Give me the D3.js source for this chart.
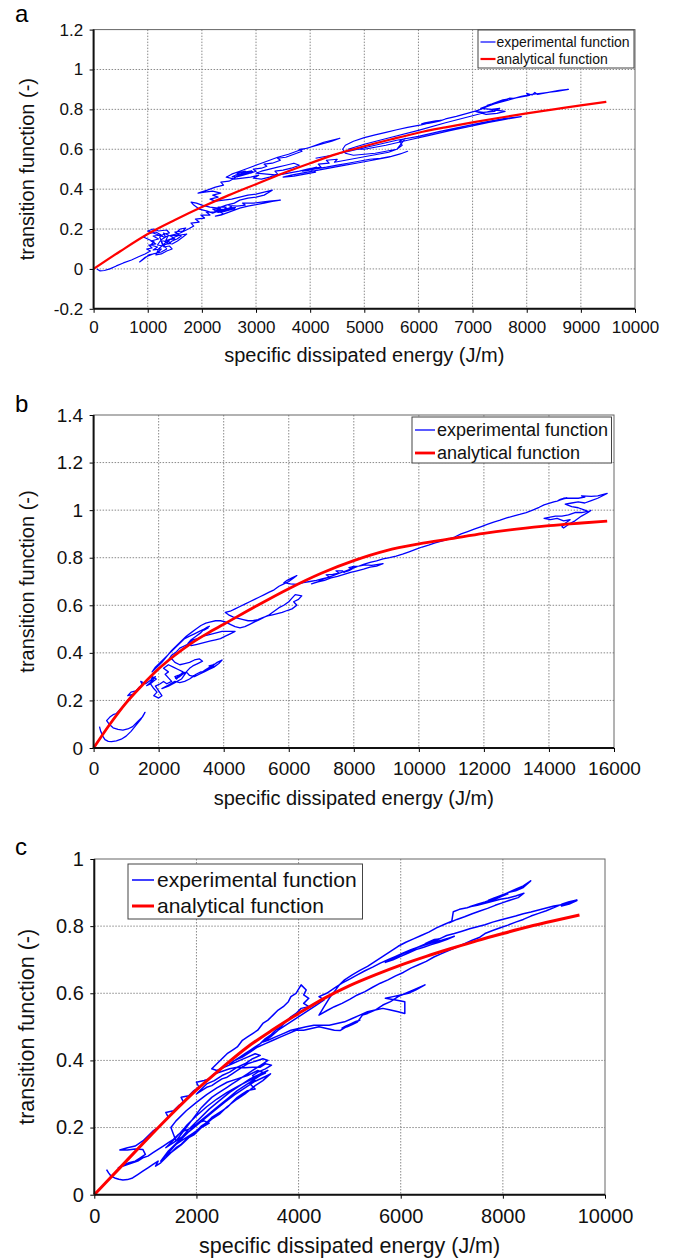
<!DOCTYPE html>
<html><head><meta charset="utf-8">
<script src="https://cdn.jsdelivr.net/npm/d3@7"></script>
<style>
html,body{margin:0;padding:0;background:#fff;}
svg{display:block;font-family:"Liberation Sans",Arial,sans-serif;}
</style></head>
<body>
<svg id="chart" width="689" height="1260"></svg>
<script>
// ---------- data ----------
const panelLabels = ["a", "b", "c"];
const seriesNames = ["experimental function", "analytical function"];
const xTitle = "specific dissipated energy (J/m)";
const yTitle = "transition function (-)";

const xTicksA = [0,1000,2000,3000,4000,5000,6000,7000,8000,9000,10000];
const yTicksA = [-0.2,0,0.2,0.4,0.6,0.8,1,1.2];
const xTicksB = [0,2000,4000,6000,8000,10000,12000,14000,16000];
const yTicksB = [0,0.2,0.4,0.6,0.8,1,1.2,1.4];
const xTicksC = [0,2000,4000,6000,8000,10000];
const yTicksC = [0,0.2,0.4,0.6,0.8,1];

// analytical function
const anaA = [[0,0],[500,0.09],[1000,0.175],[1500,0.245],[2000,0.31],[2500,0.37],[3000,0.425],[3500,0.48],[4000,0.53],[4500,0.577],[5000,0.615],[5500,0.65],[6000,0.683],[6500,0.71],[7000,0.735],[7500,0.758],[8000,0.78],[8500,0.80],[9000,0.82],[9470,0.838]];
const anaB = [[0,0],[500,0.1],[1000,0.19],[1500,0.265],[2000,0.333],[2500,0.39],[3000,0.44],[3500,0.482],[4000,0.52],[5000,0.597],[6000,0.67],[7000,0.735],[8000,0.788],[9000,0.83],[10000,0.858],[11000,0.88],[12000,0.902],[13000,0.92],[14000,0.935],[15000,0.946],[15790,0.954]];
const anaC = [[0,0],[500,0.08],[1000,0.16],[1500,0.238],[2000,0.312],[2500,0.378],[3000,0.44],[3500,0.492],[4000,0.54],[4500,0.585],[5000,0.623],[5500,0.655],[6000,0.684],[6500,0.71],[7000,0.734],[7500,0.757],[8000,0.778],[8500,0.798],[9000,0.816],[9500,0.833]];

// experimental function (traced)
const expA = [[60,0],[120,-0.01],[200,-0.008],[300,0.0],[420,0.015],[550,0.03],[700,0.045],[820,0.06],[950,0.075],[1050,0.09],
[980,0.1],[1080,0.105],[1020,0.12],[1150,0.125],[1060,0.14],[1200,0.15],[1100,0.165],[1250,0.17],[1150,0.185],[1000,0.175],[920,0.16],[1000,0.15],[1120,0.135],[1050,0.12],[1180,0.11],[1100,0.095],[1250,0.1],[1180,0.08],[1020,0.07],[900,0.045],[850,0.035],[960,0.06],[1100,0.075],[1250,0.085],[1350,0.1],[1300,0.12],[1420,0.13],[1350,0.145],[1500,0.15],[1420,0.165],[1580,0.17],[1500,0.185],[1650,0.19],[1700,0.205],[1600,0.2],[1520,0.18],[1620,0.165],[1540,0.15],[1450,0.14],[1380,0.125],[1300,0.14],
[1230,0.14],[1180,0.12],[1280,0.115],[1240,0.145],[1330,0.16],[1290,0.18],[1380,0.17],[1330,0.14],[1420,0.15],[1350,0.13],
[1450,0.125],[1550,0.14],[1650,0.16],[1720,0.175],[1600,0.17],[1500,0.16],[1400,0.145],[1300,0.125],[1200,0.1],[1150,0.07],[1250,0.075],[1350,0.09],[1450,0.1],[1400,0.115],[1300,0.11],
[1220,0.16],[1300,0.175],[1400,0.18],[1350,0.195],[1200,0.19],[1100,0.2],[1000,0.19],[1150,0.175],[1300,0.16],[1450,0.17],[1600,0.18],[1750,0.2],[1850,0.215],
[1800,0.23],[1950,0.235],[1880,0.25],[2050,0.255],[1980,0.27],[2150,0.27],[2080,0.285],[2250,0.285],
[2350,0.292],[2450,0.297],[2550,0.303],[2620,0.308],[2520,0.306],[2420,0.3],[2320,0.296],[2240,0.29],[2330,0.288],[2430,0.292],[2530,0.298],[2610,0.302],[2500,0.294],[2400,0.287],[2300,0.283],
[2200,0.3],[2350,0.3],[2300,0.31],[2450,0.31],[2400,0.295],[2550,0.31],[2500,0.318],[2650,0.315],[2800,0.32],[2750,0.33],[2950,0.33],[3100,0.335],[3250,0.34],[3450,0.345],[3300,0.338],[3150,0.33],[3000,0.322],[2850,0.315],[2700,0.305],[2550,0.29],[2450,0.28],[2350,0.27],[2250,0.265],[2400,0.275],[2300,0.29],[2200,0.28],[2100,0.29],[1950,0.3],[1850,0.32],[1800,0.335],[1900,0.33],[2000,0.32],[2150,0.31],[2300,0.305],[2450,0.32],[2600,0.33],[2700,0.345],[2850,0.355],[3000,0.36],[3150,0.37],[3300,0.395],[3150,0.385],[3000,0.375],[2850,0.37],[2700,0.36],[2550,0.35],[2400,0.345],[2250,0.34],[2150,0.35],[2300,0.36],[2200,0.37],[2350,0.38],
[2200,0.39],[2050,0.385],[1930,0.38],[2100,0.395],[2250,0.41],[2400,0.42],[2350,0.435],[2500,0.44],[2600,0.455],
[2650,0.466],[2750,0.474],[2870,0.485],[2920,0.492],[2820,0.487],[2720,0.478],[2620,0.47],[2560,0.462],[2660,0.462],[2760,0.47],[2860,0.478],[2940,0.488],[2830,0.48],[2700,0.472],
[2650,0.48],[2800,0.49],[2900,0.48],[3000,0.49],[2950,0.5],[3100,0.505],[3200,0.515],[3150,0.525],[3300,0.53],[3450,0.545],[3400,0.555],[3550,0.56],[3700,0.575],[3850,0.59],[3800,0.6],[3950,0.605],[4100,0.62],[4250,0.635],[4400,0.645],[4550,0.655],[4400,0.64],[4200,0.625],[4000,0.61],[3800,0.595],[3600,0.575],[3400,0.56],[3250,0.545],[3100,0.53],[2950,0.515],[2800,0.5],[2700,0.49],[2550,0.475],[2450,0.46],[2600,0.45],[2750,0.455],[2900,0.46],[3050,0.47],[2950,0.455],[3100,0.45],[3250,0.46],[3400,0.475],[3350,0.49],[3500,0.495],[3650,0.505],[3800,0.52],[3700,0.53],[3550,0.52],[3400,0.51],[3250,0.5],[3100,0.49],[3000,0.48],
[3200,0.475],[3400,0.47],[3600,0.48],[3800,0.49],
[3950,0.5],[4050,0.506],[4120,0.51],[4020,0.503],[3920,0.497],[3860,0.49],[3960,0.494],[4070,0.5],
[4300,0.51],[4500,0.52],[4700,0.53],[4900,0.54],[5100,0.55],[5300,0.555],[5500,0.565],[5700,0.58],[5800,0.59],[5650,0.575],[5450,0.56],[5250,0.55],[5050,0.54],[4850,0.53],[4650,0.52],[4450,0.51],[4250,0.5],[4050,0.49],[3850,0.48],[3650,0.47],[3500,0.46],[3700,0.465],[3900,0.475],[4100,0.485],[4000,0.5],[4200,0.51],[4150,0.525],[4350,0.53],[4300,0.545],[4500,0.55],[4450,0.535],[4650,0.545],[4850,0.555],[5050,0.565],[5250,0.575],[5450,0.585],[5600,0.6],[5700,0.62],[5650,0.64],[5760,0.655],[5600,0.6],[5400,0.59],[5200,0.58],[5000,0.575],[4800,0.57],[4650,0.58],[4600,0.6],[4650,0.62],
[4800,0.64],[5000,0.658],[5200,0.672],[5400,0.685],[5600,0.698],[5800,0.71],[6050,0.722],[6150,0.728],[6250,0.734],[6350,0.74],[6420,0.745],[6320,0.742],[6220,0.737],[6120,0.732],[6060,0.727],[6180,0.73],[6300,0.736],[6400,0.742],[6500,0.752],[6700,0.765],[6900,0.78],[7100,0.795],
[7250,0.812],[7350,0.822],[7450,0.832],[7550,0.842],[7650,0.852],[7560,0.848],[7460,0.838],[7360,0.828],[7270,0.82],[7370,0.826],[7470,0.836],[7570,0.846],[7680,0.856],
[7750,0.855],[7900,0.862],[8050,0.87],[8000,0.88],[8100,0.872],[8150,0.885],[8200,0.875],[8400,0.885],[8600,0.895],[8770,0.9],[8550,0.89],[8300,0.882],[8100,0.875],[7900,0.865],[7700,0.85],[7500,0.835],[7300,0.82],[7150,0.805],[7350,0.8],[7500,0.805],[7400,0.79],[7200,0.785],[7050,0.79],[7250,0.775],[7450,0.78],[7600,0.79],[7400,0.797],[7000,0.768],[6500,0.733],[6000,0.695],[5500,0.66],[5000,0.625],[4700,0.6],[5000,0.6],[5400,0.62],[5800,0.645],[6200,0.67],[6600,0.695],[6950,0.714],[7300,0.735],[7600,0.75],[7900,0.764],[7600,0.755],[7200,0.735],[6800,0.712],[6400,0.69],[6000,0.665],[5600,0.645],[5200,0.62],[4800,0.595],[4400,0.57],[4100,0.555]];

const expB = [[180,0.09],[220,0.07],[280,0.05],[350,0.035],[450,0.028],[550,0.027],[700,0.03],[850,0.037],[1000,0.05],[1150,0.07],[1300,0.095],[1450,0.12],[1580,0.15],[1500,0.13],[1350,0.11],[1200,0.09],[1050,0.08],[900,0.075],[750,0.078],[600,0.085],[480,0.1],[400,0.115],[500,0.13],[600,0.14],[700,0.145],[800,0.16],[900,0.175],[1000,0.19],[1100,0.21],[1200,0.225],[1050,0.22],[1150,0.235],[1300,0.24],[1400,0.255],[1500,0.265],[1450,0.28],[1600,0.27],
[1700,0.28],[1800,0.29],[1900,0.3],[1820,0.285],[1720,0.272],[1630,0.262],[1730,0.268],[1830,0.28],[1930,0.29],
[1800,0.3],[1750,0.27],[1850,0.25],[1950,0.235],[1850,0.22],[2000,0.21],[2100,0.22],[2000,0.24],[1900,0.26],[2050,0.27],[2150,0.28],[2250,0.27],[2400,0.28],[2300,0.295],[2200,0.31],[2300,0.32],[2150,0.335],[2300,0.35],[2450,0.34],[2600,0.33],[2750,0.32],[2650,0.305],[2550,0.29],
[2500,0.3],[2600,0.305],[2700,0.312],[2800,0.318],[2720,0.308],[2620,0.298],[2520,0.293],[2630,0.302],[2740,0.31],[2860,0.32],
[2700,0.29],[2500,0.275],[2300,0.26],[2100,0.25],[2300,0.265],[2500,0.28],[2650,0.275],[2800,0.28],[2950,0.29],[3050,0.3],[3150,0.31],[3300,0.32],
[3350,0.32],[3450,0.33],[3550,0.338],[3650,0.345],[3700,0.352],[3600,0.342],[3500,0.334],[3400,0.326],[3480,0.328],[3580,0.336],[3690,0.346],
[3550,0.345],[3700,0.35],[3800,0.36],[3950,0.37],[3850,0.355],[3700,0.34],[3550,0.33],[3400,0.32],[3250,0.31],[3100,0.3],[2950,0.305],[2850,0.32],[2950,0.335],[3050,0.345],[3200,0.355],[3350,0.365],[3250,0.375],[3100,0.37],[2950,0.36],[2800,0.355],[2650,0.35],[2500,0.36],[2400,0.375],[2300,0.37],[2400,0.39],[2550,0.405],[2650,0.42],[2800,0.43],[2950,0.44],[3050,0.455],[3200,0.46],[3350,0.47],[3500,0.475],[3650,0.48],[3800,0.485],[3950,0.49],[4100,0.49],[4350,0.49],[4200,0.48],[4050,0.47],[3900,0.46],[3750,0.455],[3600,0.45],[3450,0.445],[3300,0.44],[3150,0.435],[3000,0.43],[2900,0.44],[3000,0.455],[3150,0.47],[3300,0.485],
[3400,0.5],[3500,0.508],[3560,0.512],[3460,0.502],[3360,0.494],[3420,0.497],[3520,0.505],
[3400,0.5],[3250,0.49],[3100,0.48],[2950,0.47],[2800,0.46],[2650,0.44],[2500,0.42],[2350,0.4],[2200,0.38],[2050,0.36],[1900,0.34],[1800,0.32],[1950,0.34],[2100,0.36],[2250,0.385],[2400,0.41],[2550,0.43],[2700,0.45],[2850,0.47],[3000,0.485],[3150,0.5],[3300,0.515],[3450,0.525],[3600,0.53],[3750,0.535],[3900,0.535],[4050,0.53],[4200,0.52],[4350,0.51],[4500,0.505],[4650,0.51],[4800,0.52],[4950,0.53],[5100,0.54],[5250,0.55],[5400,0.56],[5550,0.575],[5700,0.59],[5850,0.6],[6000,0.615],[6100,0.63],[6200,0.645],[6400,0.64],[6300,0.625],[6150,0.615],[6250,0.6],[6100,0.585],[5950,0.578],[5800,0.57],[5650,0.565],[5500,0.56],[5350,0.555],[5200,0.548],[5050,0.54],[4900,0.535],[4750,0.535],[4600,0.54],[4450,0.545],[4300,0.55],[4150,0.56],[4050,0.57],[4200,0.575],[4350,0.585],[4500,0.595],[4650,0.605],[4800,0.615],[4950,0.625],[5100,0.635],[5250,0.645],[5400,0.655],[5550,0.665],[5700,0.68],[5850,0.69],[6000,0.7],[6150,0.715],[6250,0.725],[6100,0.715],[5950,0.705],[5850,0.695],[6050,0.69],[6250,0.688],[6450,0.695],[6650,0.7],[6850,0.705],[7050,0.712],[7250,0.718],[7150,0.728],[7350,0.73],[7550,0.735],[7450,0.745],[7650,0.745],
[7700,0.738],[7800,0.745],[7900,0.752],[7960,0.757],[7860,0.748],[7760,0.742],[7850,0.746],[7950,0.753],
[7850,0.758],[7950,0.762],[8150,0.765],[8350,0.77],[8550,0.768],[8750,0.772],[8900,0.775],[8700,0.765],[8500,0.76],[8300,0.752],[8100,0.745],[7900,0.738],[7700,0.73],[7500,0.722],[7300,0.715],[7100,0.705],[6900,0.698],[6700,0.69],[6900,0.7],[7100,0.712],[7300,0.722],[7500,0.732],[7700,0.742],[7900,0.752],[8100,0.762],[8300,0.772],[8500,0.78],[8700,0.787],[8900,0.795],[9100,0.8],[9300,0.807],[9500,0.815],[9700,0.825],[9900,0.835],[10100,0.845],[10300,0.853],[10500,0.862],[10700,0.87],[10900,0.878],[11100,0.887],[11300,0.9],[11500,0.91],[11700,0.92],[11900,0.93],[12100,0.94],[12300,0.95],[12500,0.958],[12700,0.967],[12900,0.975],[13100,0.982],[13300,0.99],[13500,1.0],[13700,1.012],[13850,1.022],[14000,1.028],[14150,1.035],
[14250,1.038],[14350,1.043],[14450,1.047],[14550,1.052],[14450,1.05],[14350,1.045],[14280,1.04],[14400,1.046],[14520,1.05],
[14700,1.05],[14900,1.05],[15100,1.055],[15000,1.06],[15300,1.058],[15500,1.06],[15790,1.07],[15500,1.05],[15300,1.04],[15100,1.03],[14900,1.035],[14700,1.03],[14500,1.025],[14700,1.015],[14900,1.01],[15100,1.0],[15200,0.995],[15000,0.99],[14800,0.99],[14600,0.98],[14400,0.975],[14200,0.975],[14000,0.97],[13850,0.965],[14050,0.96],[14250,0.965],[14450,0.955],[14650,0.96],[14500,0.945],[14400,0.93],[14450,0.925],[14600,0.94],[14800,0.955],[15000,0.975],[15200,0.99],[15300,1.0]];

const expC = [[240,0.075],[280,0.065],[330,0.055],[400,0.05],[480,0.046],[560,0.044],[650,0.045],[750,0.05],[850,0.06],[950,0.07],[1050,0.08],[1150,0.09],[1250,0.1],[1200,0.085],[1300,0.095],[1400,0.11],
[1500,0.125],[1600,0.14],[1700,0.15],[1800,0.165],[1900,0.175],[2000,0.19],[2100,0.2],[2250,0.213],[2150,0.22],[2050,0.215],[1950,0.205],[1850,0.195],[1750,0.19],[1650,0.18],[1550,0.165],[1450,0.155],[1350,0.145],[1250,0.135],[1150,0.125],[1050,0.115],[950,0.11],[850,0.1],[750,0.095],[650,0.09],[550,0.085],[470,0.08],[560,0.088],[680,0.095],[800,0.1],[900,0.11],[1000,0.12],[950,0.135],[800,0.136],[650,0.133],[500,0.133],[650,0.14],[800,0.145],[950,0.16],[1050,0.175],[1150,0.19],[1250,0.2],[1350,0.215],[1450,0.23],[1400,0.245],[1550,0.25],[1650,0.265],[1750,0.275],[1700,0.29],[1850,0.295],[1950,0.31],[2050,0.32],[2000,0.335],[2150,0.34],[2250,0.345],[2350,0.36],[2450,0.365],[2550,0.37],[2650,0.375],[2800,0.38],[2950,0.378],[3100,0.38],[3250,0.38],[3350,0.39],[3470,0.386],[3350,0.375],[3200,0.365],[3100,0.355],[3150,0.34],[3050,0.33],[3150,0.315],[3000,0.31],[2900,0.3],[2800,0.29],[2700,0.275],[2600,0.26],[2500,0.25],[2400,0.24],[2300,0.23],[2200,0.215],[2100,0.205],[2000,0.19],[1900,0.18],[1800,0.17],[1700,0.16],[1600,0.15],[1500,0.135],[1400,0.12],[1350,0.105],[1300,0.1],
[1450,0.13],[1650,0.16],[1850,0.195],[2050,0.225],[2250,0.255],[2450,0.28],[2650,0.305],[2850,0.325],[3050,0.345],[3250,0.36],[3400,0.37],[3200,0.35],[3000,0.33],[2800,0.31],[2600,0.285],[2400,0.26],[2200,0.235],[2000,0.21],[1800,0.18],[1600,0.15],[1400,0.115],
[1500,0.125],[1700,0.148],[1850,0.17],[1950,0.178],[2100,0.2],[2300,0.225],[2450,0.24],[2600,0.262],[2800,0.285],[2950,0.3],[3150,0.325],[3300,0.34],[3450,0.36],[3350,0.352],[3150,0.338],[2950,0.318],[2750,0.298],[2550,0.275],[2350,0.25],[2150,0.225],[1950,0.2],[1750,0.175],[1550,0.155],[1400,0.14],[1600,0.17],[1800,0.205],[2000,0.235],[2200,0.262],[2400,0.285],[2600,0.305],[2800,0.322],[3000,0.338],[3200,0.352],[3350,0.362],
[3200,0.37],[3000,0.355],[2800,0.345],[2600,0.335],[2400,0.318],[2200,0.298],[2000,0.275],[1800,0.25],[1600,0.22],[1500,0.2],
[1600,0.16],[1700,0.18],[1800,0.2],[1900,0.22],[2000,0.24],[2100,0.26],[2200,0.275],[2300,0.29],[2400,0.3],[2500,0.31],[2600,0.32],[2700,0.33],[2800,0.34],[2900,0.35],[3000,0.36],[3100,0.37],[3200,0.38],[3300,0.39],[3400,0.4],[3300,0.405],[3200,0.4],[3100,0.395],[3000,0.39],[2900,0.38],[2800,0.37],[2700,0.36],[2600,0.35],[2500,0.345],[2400,0.335],[2300,0.325],[2200,0.32],[2100,0.31],[2000,0.3],[2100,0.315],[2200,0.33],[2350,0.34],[2500,0.355],[2650,0.365],[2800,0.38],[2950,0.39],[3100,0.405],[3250,0.415],[3150,0.42],[3000,0.41],[2850,0.4],[2700,0.39],[2550,0.38],[2400,0.37],[2300,0.375],[2400,0.39],[2500,0.405],[2600,0.42],[2700,0.43],[2800,0.44],[2900,0.46],[3000,0.47],[3100,0.48],[3200,0.49],[3300,0.51],[3400,0.52],[3500,0.535],[3600,0.55],[3700,0.56],[3800,0.575],[3850,0.59],[3950,0.6],[4050,0.625],[4150,0.61],[4100,0.595],[4200,0.585],[4100,0.57],[4200,0.56],[4050,0.555],[3950,0.54],[3850,0.53],[3750,0.515],[3650,0.5],[3550,0.49],[3450,0.475],[3350,0.465],[3250,0.45],[3150,0.44],[3050,0.43],[2950,0.42],[2850,0.41],[2750,0.4],[2650,0.39],[2750,0.4],[2900,0.41],[3050,0.425],[3200,0.44],[3350,0.45],[3500,0.46],[3650,0.47],[3800,0.48],[3950,0.49],[4100,0.49],[4250,0.495],[4400,0.5],[4550,0.495],[4700,0.49],[4811,0.489],
[4900,0.497],[5000,0.505],[5100,0.512],[5200,0.52],[5120,0.516],[5020,0.509],[4920,0.502],[4850,0.496],[4950,0.5],[5050,0.507],[5150,0.514],
[5250,0.535],[5350,0.54],[5500,0.55],[5650,0.565],[5800,0.575],[5950,0.59],[6100,0.6],[6250,0.61],[6475,0.625],[6300,0.61],[6150,0.6],[6000,0.595],[5850,0.59],[5700,0.585],[5900,0.58],[6080,0.575],[6080,0.54],[5950,0.545],[5800,0.55],[5650,0.555],[5500,0.55],[5350,0.545],[5200,0.535],[5050,0.525],[4900,0.515],[4750,0.51],[4600,0.505],[4450,0.505],[4300,0.505],[4150,0.5],[4000,0.495],[3850,0.49],[3700,0.48],[3550,0.47],[3400,0.46],[3300,0.455],[3450,0.47],[3600,0.49],[3750,0.505],[3900,0.52],[4050,0.535],[4200,0.55],[4350,0.565],[4500,0.58],[4400,0.59],[4550,0.6],[4700,0.615],[4850,0.63],[5000,0.642],[5150,0.655],[5300,0.667],[5450,0.678],[5600,0.69],[5750,0.7],[5900,0.71],[6050,0.72],[6200,0.73],[6350,0.738],[6500,0.745],[6650,0.752],[6800,0.758],[6950,0.765],[7050,0.77],[6900,0.76],[6750,0.752],[6600,0.745],[6450,0.737],[6300,0.73],[6150,0.72],[6000,0.71],[5850,0.7],[5700,0.692],[5850,0.702],[6000,0.715],[6150,0.725],[6300,0.735],[6450,0.745],
[6550,0.75],[6650,0.756],[6750,0.762],[6660,0.76],[6560,0.754],[6480,0.748],[6580,0.752],[6700,0.758],
[6800,0.765],[6900,0.772],[7050,0.778],[7200,0.785],[7350,0.792],[7500,0.798],[7650,0.804],[7800,0.812],[7950,0.818],[8100,0.824],[8250,0.83],[8400,0.837],[8550,0.842],[8700,0.848],[8850,0.854],[9000,0.86],[9150,0.864],[9300,0.87],[9450,0.876],[9300,0.866],[9150,0.86],[9300,0.872],[9450,0.878],[9300,0.873],[9150,0.865],[9000,0.855],[8850,0.846],[8700,0.838],[8550,0.83],[8400,0.82],[8250,0.812],[8100,0.803],[7950,0.795],[7800,0.787],[7650,0.778],[7550,0.767],[7400,0.758],[7250,0.748],[7100,0.738],[6950,0.728],[6800,0.718],[6650,0.708],[6500,0.695],[6350,0.685],[6200,0.675],[6050,0.662],[5900,0.652],[5750,0.64],[5600,0.63],[5450,0.618],[5300,0.605],[5150,0.595],[5000,0.582],[4850,0.57],[4700,0.56],[4550,0.548],[4400,0.535],[4500,0.56],[4600,0.585],[4700,0.605],[4800,0.625],[4900,0.64],[5050,0.655],[5200,0.668],[5350,0.68],[5500,0.695],[5650,0.71],[5800,0.725],[5950,0.74],[6100,0.752],[6250,0.762],[6400,0.772],[6550,0.782],[6700,0.795],[6850,0.805],[7000,0.815],[7030,0.843],[7150,0.85],[7300,0.855],[7450,0.862],[7600,0.868],
[7700,0.872],[7800,0.878],[7900,0.884],[8000,0.89],[8100,0.896],[8000,0.894],[7900,0.888],[7800,0.882],[7720,0.877],[7830,0.884],[7940,0.89],[8060,0.897],
[8100,0.9],[8250,0.905],[8400,0.915],[8545,0.935],[8400,0.92],[8250,0.91],[8100,0.9],[7950,0.89],[7800,0.88],[7650,0.872],[7500,0.865],[7350,0.858],[7500,0.862],[7650,0.868],[7800,0.874],[7950,0.88],[8100,0.884],[8250,0.89],[8413,0.898],[8300,0.885],[8150,0.878],[8000,0.87],[7850,0.862],[7700,0.853],[7550,0.845],[7400,0.837],[7250,0.828],[7100,0.82],[6950,0.81]];

// ---------- drawing ----------
const svg = d3.select("#chart");

function drawPanel(o) {
  const g = svg.append("g");
  const x = d3.scaleLinear().domain([o.xTicks[0], o.xTicks[o.xTicks.length-1]]).range([o.L, o.R]);
  const y = d3.scaleLinear().domain([o.yTicks[0], o.yTicks[o.yTicks.length-1]]).range([o.B, o.T]);

  // grid
  g.append("g").selectAll("line").data(o.xTicks.slice(1, -1)).join("line")
    .attr("x1", d => x(d)).attr("x2", d => x(d)).attr("y1", o.T).attr("y2", o.B)
    .attr("stroke", "#8a8a8a").attr("stroke-width", 1).attr("stroke-dasharray", "1.5,1.5");
  g.append("g").selectAll("line").data(o.yTicks.slice(1, -1)).join("line")
    .attr("y1", d => y(d)).attr("y2", d => y(d)).attr("x1", o.L).attr("x2", o.R)
    .attr("stroke", "#8a8a8a").attr("stroke-width", 1).attr("stroke-dasharray", "1.5,1.5");

  // frame
  g.append("rect").attr("x", o.L).attr("y", o.T).attr("width", o.R - o.L).attr("height", o.B - o.T)
    .attr("fill", "none").attr("stroke", "#666").attr("stroke-width", 1);

  // data lines
  const line = d3.line().x(d => x(d[0])).y(d => y(d[1]));
  const smooth = d3.line().x(d => x(d[0])).y(d => y(d[1])).curve(d3.curveMonotoneX);
  g.append("path").datum(o.exp).attr("d", line).attr("fill", "none")
    .attr("stroke", "#0000ff").attr("stroke-width", o.blueW).attr("stroke-linejoin", "round");
  g.append("path").datum(o.ana).attr("d", smooth).attr("fill", "none")
    .attr("stroke", "#ff0000").attr("stroke-width", o.redW);

  // axes
  const ax = g.append("g").attr("transform", `translate(0,${o.B})`)
    .call(d3.axisBottom(x).tickValues(o.xTicks).tickFormat(d => String(d)).tickSize(4).tickPadding(o.xPad));
  const ay = g.append("g").attr("transform", `translate(${o.L},0)`)
    .call(d3.axisLeft(y).tickValues(o.yTicks).tickFormat(d => String(d)).tickSize(4).tickPadding(6.5));
  [ax, ay].forEach(a => {
    a.select(".domain").remove();
    a.selectAll("line").attr("stroke", "#000");
    a.selectAll("text").attr("font-size", o.tickFs).attr("fill", "#111")
      .attr("font-family", '"Liberation Sans",Arial,sans-serif');
  });
  g.append("line").attr("x1", o.L).attr("x2", o.R).attr("y1", o.B).attr("y2", o.B)
    .attr("stroke", "#111").attr("stroke-width", 2);
  g.append("line").attr("x1", o.L).attr("x2", o.L).attr("y1", o.T).attr("y2", o.B)
    .attr("stroke", "#111").attr("stroke-width", 2);

  // titles
  g.append("text").attr("x", (o.L + o.R) / 2).attr("y", o.xTitleY).attr("text-anchor", "middle")
    .attr("font-size", o.titleFs).attr("fill", "#111").text(xTitle);
  g.append("text").attr("transform", `translate(${o.yTitleX},${(o.T + o.B) / 2}) rotate(-90)`)
    .attr("text-anchor", "middle").attr("font-size", o.titleFs).attr("fill", "#111").text(yTitle);
  g.append("text").attr("x", 15).attr("y", o.labelY).attr("font-size", o.labelFs).attr("fill", "#000")
    .text(o.label);

  // legend
  const lg = g.append("g");
  lg.append("rect").attr("x", o.lg.x0).attr("y", o.lg.y0).attr("width", o.lg.x1 - o.lg.x0)
    .attr("height", o.lg.y1 - o.lg.y0).attr("fill", "#fff").attr("stroke", "#444").attr("stroke-width", 1);
  const colors = ["#0000ff", "#ff0000"], widths = [o.blueW, o.redW];
  seriesNames.forEach((nm, i) => {
    const yy = o.lg.rows[i];
    lg.append("line").attr("x1", o.lg.s0).attr("x2", o.lg.s1).attr("y1", yy).attr("y2", yy)
      .attr("stroke", colors[i]).attr("stroke-width", widths[i]);
    lg.append("text").attr("x", o.lg.tx).attr("y", yy).attr("dy", "0.35em")
      .attr("font-size", o.lg.fs).attr("fill", "#111").text(nm);
  });
}

drawPanel({label: panelLabels[0], xTicks: xTicksA, yTicks: yTicksA, exp: expA, ana: anaA,
  L: 93.6, R: 635, T: 29.6, B: 308.8, redW: 2.2, blueW: 1.2, tickFs: 17, xPad: 8, titleFs: 20,
  xTitleY: 362, yTitleX: 33.5, labelY: 22, labelFs: 24,
  lg: {x0: 478, x1: 634, y0: 30, y1: 68, rows: [42, 59], s0: 480.5, s1: 495.5, tx: 496.5, fs: 14}});

drawPanel({label: panelLabels[1], xTicks: xTicksB, yTicks: yTicksB, exp: expB, ana: anaB,
  L: 93.6, R: 614, T: 415, B: 748, redW: 2.8, blueW: 1.3, tickFs: 19, xPad: 9.5, titleFs: 20,
  xTitleY: 805, yTitleX: 33.5, labelY: 412, labelFs: 24,
  lg: {x0: 412, x1: 611.5, y0: 417, y1: 463, rows: [430, 453], s0: 415, s1: 435, tx: 437, fs: 18}});

drawPanel({label: panelLabels[2], xTicks: xTicksC, yTicks: yTicksC, exp: expC, ana: anaC,
  L: 94.3, R: 605, T: 859, B: 1194.7, redW: 3, blueW: 1.5, tickFs: 20, xPad: 10, titleFs: 21.5,
  xTitleY: 1253, yTitleX: 34, labelY: 855, labelFs: 24,
  lg: {x0: 128, x1: 362.5, y0: 864, y1: 919, rows: [880, 906], s0: 132, s1: 154, tx: 157, fs: 21}});
</script>
</body></html>
